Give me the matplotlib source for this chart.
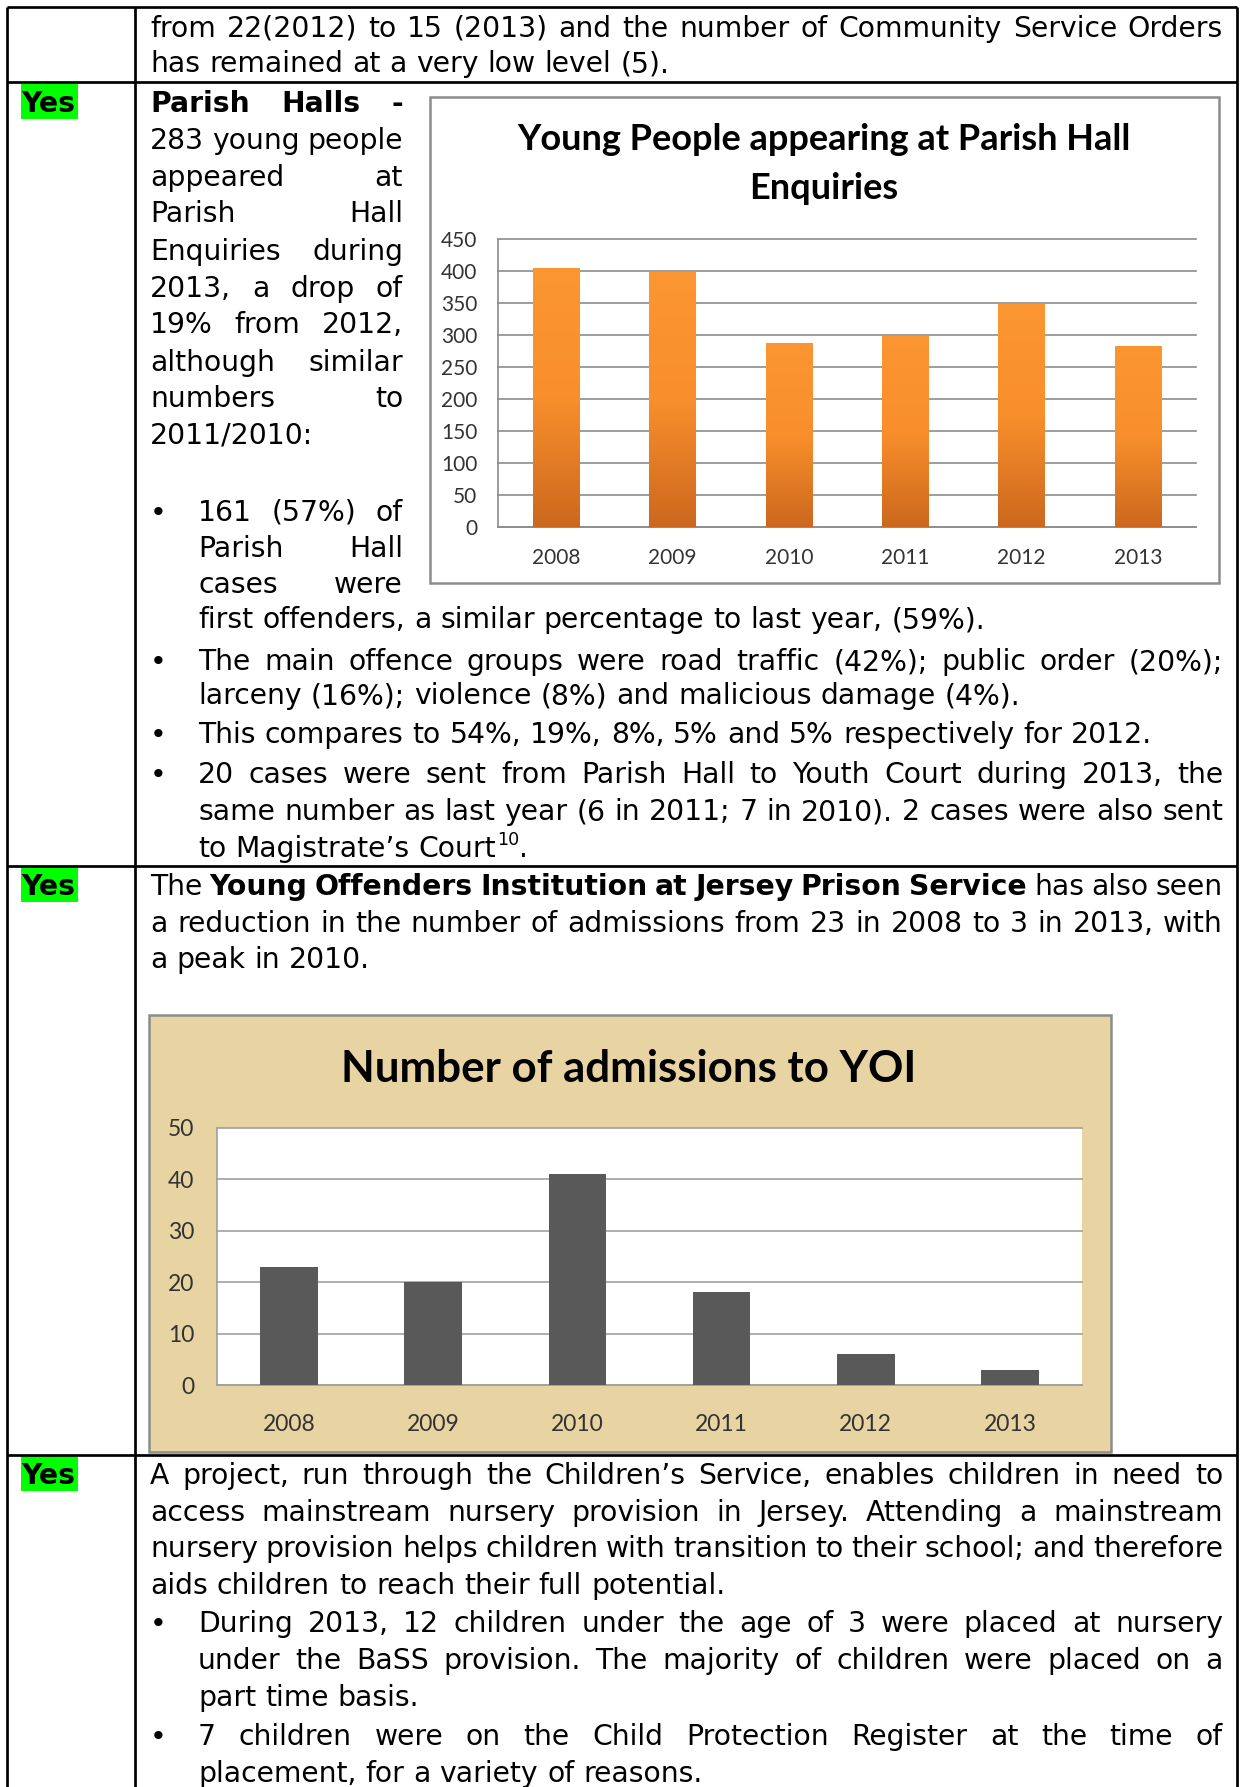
import numpy as np
import matplotlib
matplotlib.use('Agg')
import matplotlib.pyplot as plt
from matplotlib.patches import Rectangle
from matplotlib.colors import LinearSegmentedColormap

W, H, DPI = 1240, 1787, 150

# chart data
years = ['2008', '2009', '2010', '2011', '2012', '2013']
parish_hall = [405, 399, 287, 299, 349, 283]
yoi_admissions = [23, 20, 41, 18, 6, 3]
parish_title = ['Young People appearing at Parish Hall', 'Enquiries']
yoi_title = 'Number of admissions to YOI'

BODY = 'DejaVu Sans'
CHART = 'Lato'

fig = plt.figure(figsize=(W / DPI, H / DPI), dpi=DPI)
page = fig.add_axes([0, 0, 1, 1])
page.set_xlim(0, W)
page.set_ylim(H, 0)
page.axis('off')
renderer = fig.canvas.get_renderer()


def px_axes(x0, y0, x1, y1):
    return fig.add_axes([x0 / W, 1 - y1 / H, (x1 - x0) / W, (y1 - y0) / H])


def width_of(s, bold=False, size=12, family=BODY):
    t = page.text(0, 0, s, fontsize=size, family=family,
                  weight='bold' if bold else 'normal')
    w = t.get_window_extent(renderer).width
    t.remove()
    return w


# body size chosen so an unjustified line spans what it does on the page
ref_line = 'This compares to 54%, 19%, 8%, 5% and 5% respectively for 2012.'
FS = 12 * 956 / width_of(ref_line, size=12)
SPACE = width_of('a a', size=FS) - width_of('aa', size=FS)


def tokens(line):
    out, bold = [], False
    for w in line.split(' '):
        if w.startswith('**'):
            bold, w = True, w[2:]
        b = bold
        if w.endswith('**'):
            w, bold = w[:-2], False
        out.append((w, b))
    return out


def draw_line(y, x0, x1, line, justify=True):
    toks = tokens(line)
    widths = [width_of(w, b, FS) for w, b in toks]
    gap = SPACE
    if justify and len(toks) > 1:
        gap = max((x1 - x0 - sum(widths)) / (len(toks) - 1), 0.5 * SPACE)
    x = x0
    for (w, b), wd in zip(toks, widths):
        page.text(x, y, w, fontsize=FS, family=BODY, weight='bold' if b else 'normal',
                  ha='left', va='baseline', color='black')
        x += wd + gap
    return x - gap


def bullet(y, x=158):
    page.text(x, y, '\u2022', fontsize=FS, family=BODY, ha='center', va='baseline')


# ---- table grid ----
lw = 1.3
for x in (7, 135, 1237):
    page.plot([x, x], [7, H + 5], color='black', lw=lw, solid_capstyle='butt')
for y in (7, 82, 866, 1455):
    page.plot([7, 1237], [y, y], color='black', lw=lw, solid_capstyle='butt')

yes_w = width_of('Yes', True, FS)
for y0, base in ((84, 112), (867, 895), (1456, 1484)):
    page.add_patch(Rectangle((21, y0), max(57, yes_w + 1), 35, color='#00FF00', lw=0))
    page.text(21, base, 'Yes', fontsize=FS, family=BODY, weight='bold', va='baseline')

# ---- row 1 ----
L, R = 150, 1223
draw_line(37, L, R, 'from 22(2012) to 15 (2013) and the number of Community Service Orders')
draw_line(72, L, R, 'has remained at a very low level (5).', False)

# ---- row 2 ----
NR = 403
narrow = [(112, '**Parish Halls -**', True), (149, '283 young people', True),
          (186, 'appeared at', True), (222, 'Parish Hall', True),
          (260, 'Enquiries during', True), (297, '2013, a drop of', True),
          (333, '19% from 2012,', True), (371, 'although similar', True),
          (407, 'numbers to', True), (444, '2011/2010:', False)]
for y, s, j in narrow:
    draw_line(y, L, NR, s, j)

BL = 198
bullet(521)
draw_line(521, BL, NR, '161 (57%) of')
draw_line(557, BL, NR, 'Parish Hall')
draw_line(593, BL, NR, 'cases were')
draw_line(628, BL, R, 'first offenders, a similar percentage to last year, (59%).', False)
bullet(670)
draw_line(670, BL, R, 'The main offence groups were road traffic (42%); public order (20%);')
draw_line(704, BL, R, 'larceny (16%); violence (8%) and malicious damage (4%).', False)
bullet(743)
draw_line(743, BL, R, ref_line, False)
bullet(783)
draw_line(783, BL, R, '20 cases were sent from Parish Hall to Youth Court during 2013, the')
draw_line(820, BL, R, 'same number as last year (6 in 2011; 7 in 2010). 2 cases were also sent')
xe = draw_line(857, BL, R, 'to Magistrate\u2019s Court', False)
page.text(xe + 1, 845, '10', fontsize=FS * 0.62, family=BODY, va='baseline')
page.text(xe + 1 + width_of('10', size=FS * 0.62), 857, '.', fontsize=FS, family=BODY,
          va='baseline')

# ---- row 3 ----
draw_line(895, L, R, 'The **Young Offenders Institution at Jersey Prison Service** has also seen')
draw_line(932, L, R, 'a reduction in the number of admissions from 23 in 2008 to 3 in 2013, with')
draw_line(968, L, R, 'a peak in 2010.', False)

# ---- row 4 ----
draw_line(1484, L, R, 'A project, run through the Children\u2019s Service, enables children in need to')
draw_line(1521, L, R, 'access mainstream nursery provision in Jersey. Attending a mainstream')
draw_line(1557, L, R, 'nursery provision helps children with transition to their school; and therefore')
draw_line(1594, L, R, 'aids children to reach their full potential.', False)
bullet(1632)
draw_line(1632, BL, R, 'During 2013, 12 children under the age of 3 were placed at nursery')
draw_line(1669, BL, R, 'under the BaSS provision. The majority of children were placed on a')
draw_line(1706, BL, R, 'part time basis.', False)
bullet(1745)
draw_line(1745, BL, R, '7 children were on the Child Protection Register at the time of')
draw_line(1782, BL, R, 'placement, for a variety of reasons.', False)


def fit_size(s, target, family=CHART):
    return 10 * target / width_of(s, True, 10, family)


# ---- chart 1: Parish Hall enquiries ----
page.add_patch(Rectangle((430, 97), 789, 486, fc='white', ec='#8C8C8C', lw=1.2))
ts = fit_size(parish_title[0], 616)
page.text(824, 150, parish_title[0], fontsize=ts, family=CHART, weight='bold',
          ha='center', va='baseline')
page.text(824, 199, parish_title[1], fontsize=ts, family=CHART, weight='bold',
          ha='center', va='baseline')

ax1 = px_axes(498, 239, 1196, 527)
ax1.set_facecolor('none')
x = np.arange(len(years))
bars = ax1.bar(x, parish_hall, width=0.4, color='none', zorder=3)
grad = np.linspace(0, 1, 256).reshape(-1, 1)
orange = LinearSegmentedColormap.from_list('orange', ['#CC681E', '#F98F2C', '#FB9632'])
for b in bars:
    im = ax1.imshow(grad, extent=[b.get_x(), b.get_x() + b.get_width(), 0, b.get_height()],
                    origin='lower', aspect='auto', cmap=orange, zorder=3)
    im.set_clip_path(b)
ax1.set_xlim(-0.5, 5.5)
ax1.set_ylim(0, 450)
ax1.set_yticks(range(0, 451, 50))
ax1.set_xticks(x, years)
ax1.yaxis.grid(True, color='#8C8C8C', lw=0.8)
ax1.set_axisbelow(True)
for gl in ax1.get_ygridlines():
    gl.set_clip_on(False)
for s in ('top', 'right'):
    ax1.spines[s].set_visible(False)
for s in ('left', 'bottom'):
    ax1.spines[s].set_color('#8C8C8C')
    ax1.spines[s].set_linewidth(0.8)
ax1.tick_params(axis='y', length=0, pad=10, labelsize=10, labelcolor='#333333')
ax1.tick_params(axis='x', length=0, pad=10, labelsize=10, labelcolor='#333333')
for lab in ax1.get_xticklabels() + ax1.get_yticklabels():
    lab.set_family(CHART)

# ---- chart 2: YOI admissions ----
page.add_patch(Rectangle((149, 1015), 962, 437, fc='#E8D4A2', ec='#8C8C8C', lw=1.2))
page.text(629, 1082, yoi_title, fontsize=fit_size(yoi_title, 578), family=CHART,
          weight='bold', ha='center', va='baseline')

ax2 = px_axes(217, 1128, 1082, 1385)
ax2.set_facecolor('white')
ax2.bar(x, yoi_admissions, width=0.4, color='#595959', zorder=3)
ax2.set_xlim(-0.5, 5.5)
ax2.set_ylim(0, 50)
ax2.set_yticks(range(0, 51, 10))
ax2.set_xticks(x, years)
ax2.yaxis.grid(True, color='#A0A0A0', lw=0.8)
ax2.set_axisbelow(True)
for gl in ax2.get_ygridlines():
    gl.set_clip_on(False)
for s in ('top', 'right'):
    ax2.spines[s].set_visible(False)
for s in ('left', 'bottom'):
    ax2.spines[s].set_color('#A0A0A0')
    ax2.spines[s].set_linewidth(0.8)
ax2.tick_params(axis='y', length=0, pad=11, labelsize=11, labelcolor='#333333')
ax2.tick_params(axis='x', length=0, pad=14, labelsize=11, labelcolor='#333333')
for lab in ax2.get_xticklabels() + ax2.get_yticklabels():
    lab.set_family(CHART)

fig.savefig('out.png', dpi=DPI, facecolor='white')
